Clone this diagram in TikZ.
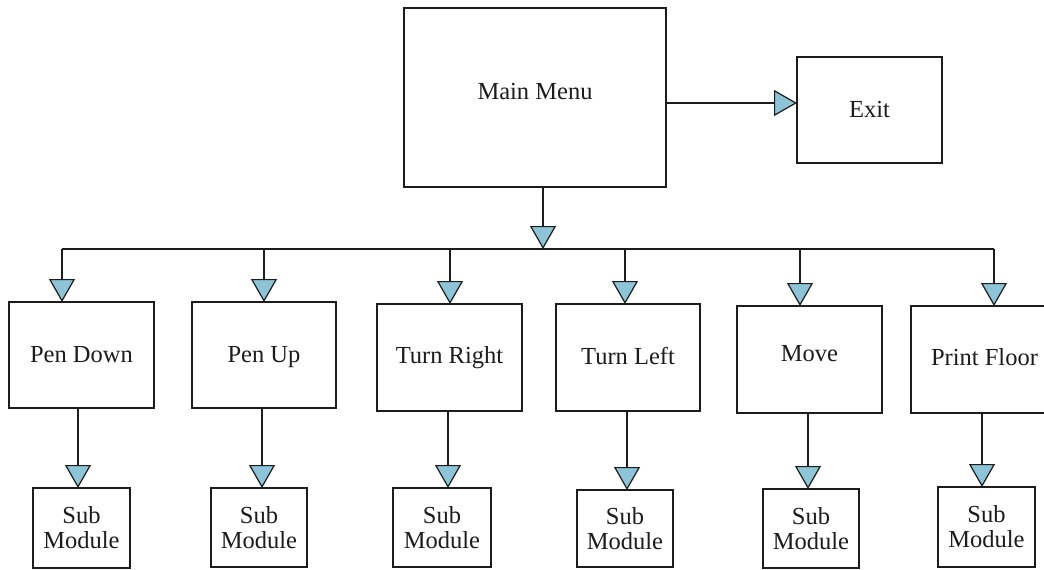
\documentclass[tikz,border=0pt]{standalone}
\usepackage{fontspec}
\setmainfont{Liberation Serif}
\usetikzlibrary{arrows.meta}
\definecolor{tipblue}{RGB}{142,196,216}
\definecolor{ink}{RGB}{28,28,28}
\newcommand{\lift}[2]{\raisebox{#1}[\height][\depth]{#2}}
\begin{document}
\begin{tikzpicture}[x=1pt,y=-1pt,
  box/.style={draw=ink, line width=2pt, fill=white, inner sep=0pt, outer sep=0pt,
    font=\fontsize{24.5}{25}\selectfont, text=ink, align=center},
  arr/.style={draw=ink, line width=2pt,
    -{Triangle[length=23pt,width=26pt,fill=tipblue,line width=1.2pt]}},
  link/.style={draw=ink, line width=2pt}]
\useasboundingbox[fill=white] (0,0) rectangle (1044,570);

% top level
\node[box, minimum width=262pt, minimum height=179pt] (main) at (535,97.5) {\lift{6pt}{Main Menu}};
\node[box, minimum width=145pt, minimum height=106pt] (exit) at (869.5,110) {Exit};

% menu options
\node[box, minimum width=145pt, minimum height=106pt] (pd) at (81.5,355) {Pen Down};
\node[box, minimum width=144pt, minimum height=106pt] (pu) at (264,355) {Pen U\smash{p}};
\node[box, minimum width=145pt, minimum height=107pt] (tr) at (449.5,357.5) {Turn Right};
\node[box, minimum width=144pt, minimum height=107pt] (tl) at (628,357.5) {\lift{2pt}{Turn Left}};
\node[box, minimum width=145pt, minimum height=107pt] (mv) at (809.5,359.5) {\lift{6pt}{Move}};
\node[box, minimum width=147pt, minimum height=107pt] (pf) at (984.5,359.5) {\lift{2pt}{Print Floor}};

% sub modules
\node[box, minimum width=97pt, minimum height=80pt] (s1) at (81.5,528) {Sub\\Module};
\node[box, minimum width=96pt, minimum height=79pt] (s2) at (259,527.5) {Sub\\Module};
\node[box, minimum width=98pt, minimum height=79pt] (s3) at (442,527.5) {Sub\\Module};
\node[box, minimum width=96pt, minimum height=77pt] (s4) at (625,528.5) {Sub\\Module};
\node[box, minimum width=96pt, minimum height=79pt] (s5) at (811,528.5) {Sub\\Module};
\node[box, minimum width=97pt, minimum height=80pt] (s6) at (986.5,527) {Sub\\Module};

% bus points
\coordinate (hub) at (543,249);
\coordinate (b1) at (62,249);
\coordinate (b2) at (264,249);
\coordinate (b3) at (450,249);
\coordinate (b4) at (625,249);
\coordinate (b5) at (800,249);
\coordinate (b6) at (994,249);

% main menu connectors
\draw[arr] ([yshift=-5.5pt]main.east) -- ([yshift=-5.5pt]main.east -| exit.west);
\draw[link] (b1) -- (b6);
\draw[arr] (main.south -| hub) -- (hub);

% drops to options
\draw[arr] (b1) -- (b1 |- pd.north);
\draw[arr] (b2) -- (b2 |- pu.north);
\draw[arr] (b3) -- (b3 |- tr.north);
\draw[arr] (b4) -- (b4 |- tl.north);
\draw[arr] (b5) -- (b5 |- mv.north);
\draw[arr] (b6) -- (b6 |- pf.north);

% options to sub modules
\draw[arr] ([xshift=-3.5pt]pd.south) -- ([xshift=-3.5pt]pd.south |- s1.north);
\draw[arr] ([xshift=-2pt]pu.south) -- ([xshift=-2pt]pu.south |- s2.north);
\draw[arr] ([xshift=-1.5pt]tr.south) -- ([xshift=-1.5pt]tr.south |- s3.north);
\draw[arr] ([xshift=-1pt]tl.south) -- ([xshift=-1pt]tl.south |- s4.north);
\draw[arr] ([xshift=-1.5pt]mv.south) -- ([xshift=-1.5pt]mv.south |- s5.north);
\draw[arr] ([xshift=-2.5pt]pf.south) -- ([xshift=-2.5pt]pf.south |- s6.north);
\end{tikzpicture}
\end{document}
